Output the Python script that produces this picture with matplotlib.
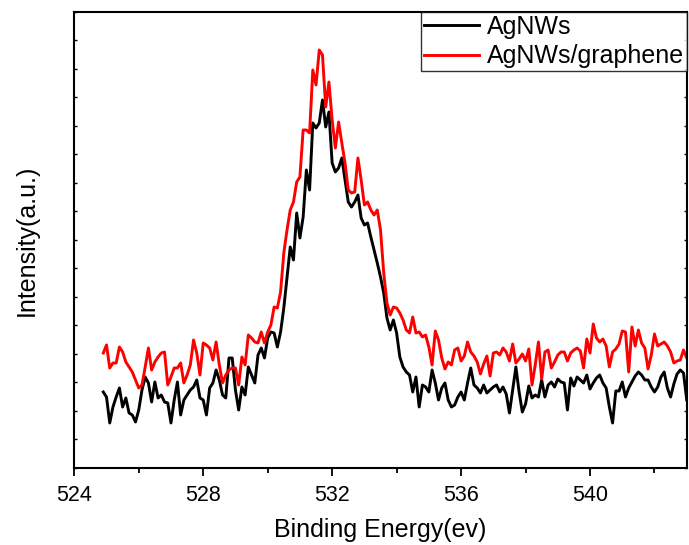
import numpy as np
import matplotlib
matplotlib.use("Agg")
import matplotlib.pyplot as plt
from matplotlib.ticker import MultipleLocator, NullFormatter

plt.rcParams['font.family'] = ['Liberation Sans', 'DejaVu Sans']

# energy grid (eV), 0.1 eV step as in the scan
energy = np.round(np.arange(524.9, 543.05, 0.1), 2)

# O 1s intensity, arbitrary units
agnws = [
    76, 71, 45, 61, 71, 80, 61, 70, 55, 53, 46, 58, 78, 91, 85, 66, 86, 70, 73, 66,
    65, 45, 68, 86, 53, 68, 73, 78, 81, 88, 70, 68, 53, 80, 85, 98, 88, 73, 70, 110,
    110, 78, 58, 81, 73, 101, 93, 85, 113, 120, 110, 130, 136, 135, 121, 136, 160, 190, 221, 208,
    255, 230, 251, 298, 278, 345, 340, 345, 368, 341, 356, 305, 296, 300, 310, 288, 266, 261, 266, 273,
    250, 243, 245, 231, 218, 205, 191, 175, 150, 138, 148, 135, 111, 101, 96, 93, 76, 91, 61, 83,
    81, 76, 98, 85, 68, 80, 85, 68, 61, 63, 71, 76, 68, 85, 100, 83, 80, 75, 83, 75,
    78, 81, 83, 76, 81, 74, 55, 78, 101, 76, 56, 64, 82, 70, 73, 71, 88, 71, 83, 86,
    81, 89, 86, 85, 58, 90, 82, 91, 88, 85, 93, 79, 85, 90, 93, 85, 80, 61, 45, 77,
    77, 86, 71, 80, 86, 92, 96, 93, 88, 88, 81, 76, 81, 91, 96, 80, 71, 84, 94, 98,
    95, 68,
]
agnws_graphene = [
    115, 123, 100, 105, 105, 121, 116, 106, 101, 96, 88, 80, 83, 101, 120, 98, 106, 111, 115, 116,
    83, 91, 100, 100, 105, 85, 93, 103, 128, 115, 93, 125, 123, 120, 108, 126, 103, 85, 93, 98,
    100, 100, 83, 111, 103, 133, 130, 126, 125, 136, 125, 136, 143, 161, 160, 176, 215, 238, 258, 266,
    286, 291, 338, 338, 335, 398, 383, 418, 413, 361, 386, 348, 320, 346, 325, 305, 278, 275, 276, 310,
    288, 263, 266, 258, 253, 258, 238, 195, 165, 153, 161, 160, 155, 148, 138, 135, 151, 135, 136, 131,
    133, 121, 103, 137, 128, 110, 99, 106, 103, 118, 120, 107, 112, 126, 116, 112, 106, 94, 104, 112,
    92, 115, 116, 113, 120, 116, 107, 124, 105, 109, 114, 107, 119, 83, 103, 126, 89, 116, 118, 100,
    106, 113, 116, 116, 107, 115, 118, 120, 117, 100, 129, 115, 144, 130, 126, 129, 122, 101, 116, 119,
    124, 137, 136, 96, 141, 122, 138, 125, 120, 99, 113, 134, 122, 124, 126, 122, 116, 105, 107, 108,
    118, 110,
]

fig = plt.figure(figsize=(6.89, 5.45), dpi=100)
ax = fig.add_axes([0.1078, 0.1413, 0.8889, 0.8367])

ax.plot(energy, agnws, color='black', lw=2.1, label='AgNWs')
ax.plot(energy, agnws_graphene, color='#ff0000', lw=2.1, label='AgNWs/graphene')

ax.set_xlim(524, 543)
ax.set_ylim(0, 456)

ax.xaxis.set_major_locator(MultipleLocator(4))
ax.xaxis.set_minor_locator(MultipleLocator(2))
ax.yaxis.set_major_locator(MultipleLocator(28.5))
ax.yaxis.set_major_formatter(NullFormatter())

ax.tick_params(axis='x', which='major', direction='out', length=6, width=1.3,
               labelsize=15.5, pad=6)
ax.tick_params(axis='x', which='minor', direction='out', length=3.5, width=1.3)
ax.tick_params(axis='y', which='both', direction='in', length=2.5, width=1.0,
               left=True, right=True)
for sp in ax.spines.values():
    sp.set_linewidth(1.5)

ax.set_xlabel('Binding Energy(ev)', fontsize=18, labelpad=9)
ax.set_ylabel('Intensity(a.u.)', fontsize=18, labelpad=22)

leg = ax.legend(loc='upper right', fontsize=18, frameon=True, fancybox=False,
                borderaxespad=0, borderpad=0.12, labelspacing=0.22,
                handlelength=2.2, handletextpad=0.3)
leg.get_frame().set_edgecolor('black')
leg.get_frame().set_linewidth(1.0)

fig.savefig('out.png', dpi=100)
